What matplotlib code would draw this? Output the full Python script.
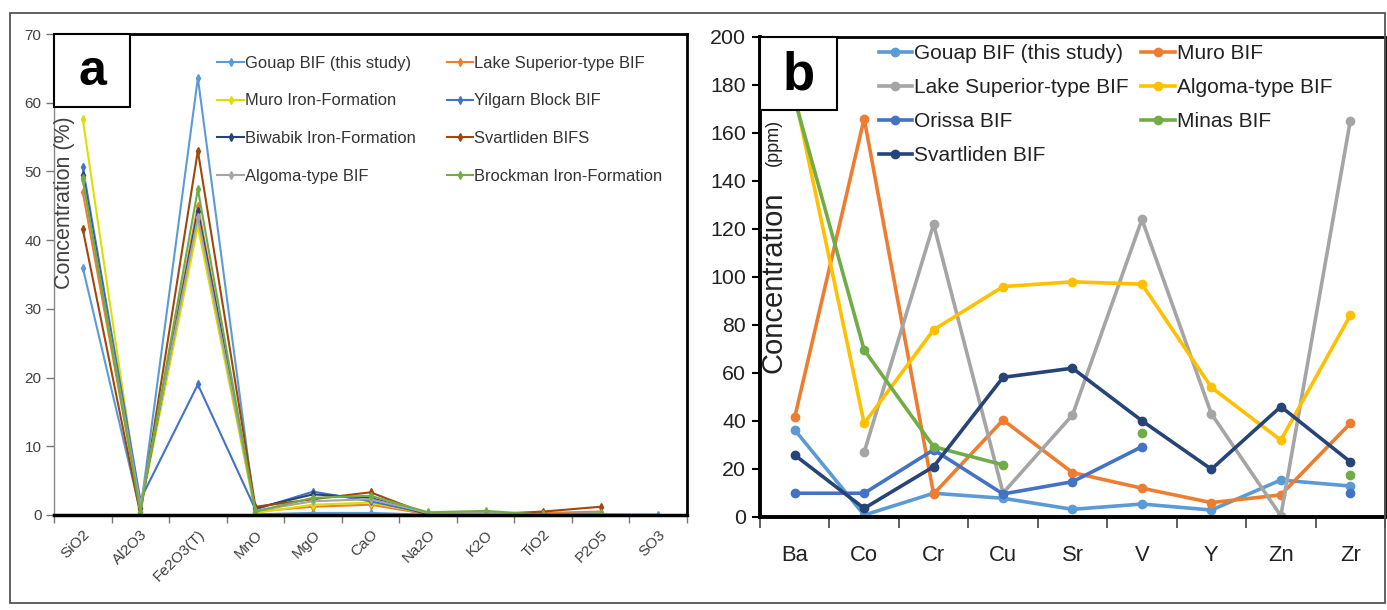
import numpy as np
import matplotlib
matplotlib.use("Agg")
import matplotlib.pyplot as plt
from matplotlib import font_manager
from matplotlib.patches import Rectangle

# fonts: the original looks like Arial / Arial Narrow
_names = {f.name for f in font_manager.fontManager.ttflist}
HAS_NARROW = "Liberation Sans Narrow" in _names
NARROW = "Liberation Sans Narrow" if HAS_NARROW else "Liberation Sans"
REG = "Liberation Sans"
NK = 1.0 if HAS_NARROW else 0.88   # shrink sizes when narrow face is missing

# ---- panel a: major oxides (%) ----
oxides = ["SiO2", "Al2O3", "Fe2O3(T)", "MnO", "MgO", "CaO", "Na2O", "K2O", "TiO2", "P2O5", "SO3"]
nan = np.nan
gouap_a = [36.0, 0.5, 63.6, 0.1, 0.3, 0.3, 0.05, 0.05, 0.02, 0.1, 0.05]
lake_sup_a = [47.0, 1.0, 45.0, 0.5, 1.2, 1.5, 0.1, 0.1, 0.3, 0.5, nan]
muro_a = [57.6, 0.8, 42.0, 0.3, 1.5, 1.8, 0.2, 0.2, 0.05, 0.2, nan]
yilgarn_a = [50.6, 2.2, 19.0, 0.8, 3.4, 2.0, 0.2, 0.2, 0.1, 0.2, nan]
biwabik_a = [49.5, 1.0, 44.2, 1.0, 3.0, 2.5, 0.1, 0.1, 0.05, 0.1, nan]
svartliden_a = [41.6, 0.1, 53.0, 1.2, 2.3, 3.3, 0.1, 0.1, 0.5, 1.2, nan]
algoma_a = [48.7, 1.5, 43.3, 0.6, 2.0, 2.3, 0.3, 0.3, 0.1, 0.3, nan]
brockman_a = [49.0, 0.5, 47.4, 0.5, 2.5, 2.8, 0.4, 0.6, 0.05, 0.2, nan]

# ---- panel b: trace elements (ppm) ----
elements = ["Ba", "Co", "Cr", "Cu", "Sr", "V", "Y", "Zn", "Zr"]
gouap_b = [36.3, 0.8, 9.9, 7.8, 3.2, 5.4, 2.9, 15.4, 12.9]
muro_b = [41.5, 166, 9.6, 40.4, 18.5, 12, 6, 9.2, 39]
lake_sup_b = [nan, 27, 122, 10, 42.5, 124, 43, 0.5, 165]
algoma_b = [176, 39, 78, 96, 98, 97, 54, 32, 84]
orissa_b = [9.9, 9.9, 28, 9.6, 14.7, 29.3, nan, nan, 10]
minas_b = [174, 69.6, 29.3, 21.7, nan, 35, nan, nan, 17.5]
svartliden_b = [25.8, 3.6, 21, 58.2, 62, 40.1, 19.9, 46, 23]

LBLUE, ORANGE, GRAY, GOLD = "#5B9BD5", "#ED7D31", "#A5A5A5", "#FFC000"
BLUE, GREEN, NAVY, BROWN = "#4472C4", "#70AD47", "#264478", "#9E480E"
YELLOW = "#DEDE00"

series_a = [
    ("Gouap BIF (this study)", gouap_a, LBLUE),
    ("Lake Superior-type BIF", lake_sup_a, ORANGE),
    ("Muro Iron-Formation", muro_a, YELLOW),
    ("Yilgarn Block BIF", yilgarn_a, BLUE),
    ("Biwabik Iron-Formation", biwabik_a, NAVY),
    ("Svartliden BIFS", svartliden_a, BROWN),
    ("Algoma-type BIF", algoma_a, GRAY),
    ("Brockman Iron-Formation", brockman_a, GREEN),
]
series_b = [
    ("Gouap BIF (this study)", gouap_b, LBLUE),
    ("Muro BIF", muro_b, ORANGE),
    ("Lake Superior-type BIF", lake_sup_b, GRAY),
    ("Algoma-type BIF", algoma_b, GOLD),
    ("Orissa BIF", orissa_b, BLUE),
    ("Minas BIF", minas_b, GREEN),
    ("Svartliden BIF", svartliden_b, NAVY),
]

W, H = 1387, 610
fig = plt.figure(figsize=(W / 100, H / 100), dpi=100)

# outer frame around both panels
fig.add_artist(Rectangle((10 / W, 7 / H), 1375 / W, 590 / H, transform=fig.transFigure,
                         fill=False, ec="#555555", lw=1.3))

# ---------------- panel a ----------------
ax = fig.add_axes([54 / W, 95 / H, 633 / W, 481 / H])
xa = np.arange(len(oxides))
handles = {}
for name, vals, col in series_a:
    h, = ax.plot(xa, vals, color=col, lw=1.5, marker="d", ms=4, mec=col, mfc=col)
    handles[name] = h
ax.set_xlim(-0.5, len(oxides) - 0.5)
ax.set_ylim(0, 70)
ax.set_yticks(np.arange(0, 71, 10))
ax.set_xticks(xa)
ax.set_xticklabels(oxides, rotation=45, ha="right", rotation_mode="anchor",
                   family=REG, fontsize=11, color="#404040")
ax.set_xticks(np.arange(-0.5, len(oxides), 1), minor=True)
ax.tick_params(axis="x", which="major", length=0, pad=9)
ax.tick_params(axis="x", which="minor", length=6, width=1, color="#777777", direction="out")
ax.tick_params(axis="y", length=6, width=1, color="#777777", labelsize=12.5 * NK,
               labelcolor="#404040", pad=3)
for t in ax.get_yticklabels():
    t.set_family(NARROW)
ax.spines["left"].set_color("#888888")
ax.spines["left"].set_linewidth(1.0)
ax.spines["bottom"].set_linewidth(2.5)
ax.spines["top"].set_linewidth(2.0)
ax.spines["right"].set_linewidth(2.0)
ax.text(0.017, 0.65, "Concentration (%)", transform=ax.transAxes, rotation=90,
        ha="center", va="center", family=REG, fontsize=15.5, color="#404040")
ax.add_patch(Rectangle((0, 0.848), 0.12, 0.152, transform=ax.transAxes, fc="white",
                       ec="black", lw=1.5, zorder=5, clip_on=False))
ax.text(0.06, 0.922, "a", transform=ax.transAxes, ha="center", va="center",
        fontsize=36, fontweight="bold", family=REG, zorder=6)
order_a = ["Gouap BIF (this study)", "Muro Iron-Formation", "Biwabik Iron-Formation",
           "Algoma-type BIF", "Lake Superior-type BIF", "Yilgarn Block BIF",
           "Svartliden BIFS", "Brockman Iron-Formation"]
leg = ax.legend([handles[n] for n in order_a], order_a, ncol=2, loc="upper left",
                bbox_to_anchor=(0.258, 0.955), frameon=False,
                prop={"family": NARROW, "size": 13.5 * NK}, handlelength=1.6,
                handletextpad=0.05, columnspacing=1.9, labelspacing=1.38,
                borderaxespad=0, borderpad=0)
for t in leg.get_texts():
    t.set_color("#333333")

# ---------------- panel b ----------------
bx = fig.add_axes([760 / W, 93 / H, 625 / W, 480 / H])
xb = np.arange(len(elements))
hb = {}
for name, vals, col in series_b:
    h, = bx.plot(xb, vals, color=col, lw=2.6, marker="o", ms=6, mec=col, mfc=col)
    hb[name] = h
bx.set_xlim(-0.5, len(elements) - 0.5)
bx.set_ylim(0, 200)
bx.set_yticks(np.arange(0, 201, 20))
bx.set_xticks(xb)
bx.set_xticklabels(elements, family=NARROW, fontsize=18 * NK, color="#222222")
bx.set_xticks(np.arange(-0.5, len(elements), 1), minor=True)
bx.tick_params(axis="x", which="major", length=0, pad=20)
bx.tick_params(axis="x", which="minor", length=8, width=1.2, color="#444444", direction="out")
bx.tick_params(axis="y", length=6, width=1.5, labelsize=17.5 * NK, labelcolor="#222222", pad=4)
for t in bx.get_yticklabels():
    t.set_family(NARROW)
for s in ["left", "bottom"]:
    bx.spines[s].set_linewidth(2.8)
for s in ["top", "right"]:
    bx.spines[s].set_linewidth(2.0)
bx.text(0.021, 0.49, "Concentration", transform=bx.transAxes, rotation=90,
        ha="center", va="center", family=REG, fontsize=21, color="#222222")
bx.text(0.021, 0.78, "(ppm)", transform=bx.transAxes, rotation=90,
        ha="center", va="center", family=REG, fontsize=13, color="#222222")
bx.add_patch(Rectangle((0, 0.848), 0.123, 0.152, transform=bx.transAxes, fc="white",
                       ec="black", lw=1.5, zorder=5, clip_on=False))
bx.text(0.0615, 0.92, "b", transform=bx.transAxes, ha="center", va="center",
        fontsize=38, fontweight="bold", family=REG, zorder=6)
order_b = ["Gouap BIF (this study)", "Lake Superior-type BIF", "Orissa BIF", "Svartliden BIF",
           "Muro BIF", "Algoma-type BIF", "Minas BIF"]
legb = bx.legend([hb[n] for n in order_b], order_b, ncol=2, loc="upper left",
                 bbox_to_anchor=(0.19, 0.985), frameon=False,
                 prop={"family": REG, "size": 15}, handlelength=1.6,
                 handletextpad=0.1, columnspacing=0.6, labelspacing=0.72,
                 borderaxespad=0, borderpad=0)
for t in legb.get_texts():
    t.set_color("#222222")

fig.savefig("out.png", dpi=100)
